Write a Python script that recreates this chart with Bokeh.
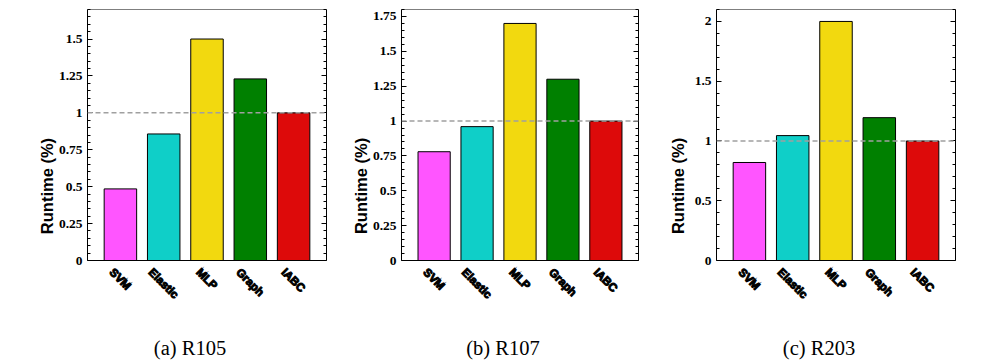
from bokeh.plotting import figure
from bokeh.layouts import row
from bokeh.models import (Span, LinearAxis, FixedTicker, Range1d, FactorRange,
                          LabelSet, ColumnDataSource)
from bokeh.core.properties import value
from bokeh.embed import file_html
from bokeh.resources import INLINE
import numpy as np

methods = ["SVM", "Elastic", "MLP", "Graph", "IABC"]
colors = ["#FF55FF", "#0FCFC8", "#F2D90F", "#008000", "#DD0A0A"]

r105 = [0.485, 0.857, 1.50, 1.23, 1.00]
r107 = [0.78, 0.96, 1.70, 1.30, 1.00]
r203 = [0.82, 1.045, 2.00, 1.195, 1.00]

ticks_a = [0, 0.25, 0.5, 0.75, 1, 1.25, 1.5]
labels_a = ["0", "0.25", "0.5", "0.75", "1", "1.25", "1.5"]
ticks_b = [0, 0.25, 0.5, 0.75, 1, 1.25, 1.5, 1.75]
labels_b = ["0", "0.25", "0.5", "0.75", "1", "1.25", "1.5", "1.75"]
ticks_c = [0, 0.5, 1, 1.5, 2]
labels_c = ["0", "0.5", "1", "1.5", "2"]

captions = ["(a) R105", "(b) R107", "(c) R203"]
baseline = 1.0

# layout (pixels)
TOP = 9          # canvas top -> plot box top
BOX_H = 251      # height of the plot box (0 .. ymax)
BELOW = 102      # space below plot box for category labels and caption
XFS = 11.5       # category label font size

# approximate bold sans advance widths (em) for placing rotated category labels
_W = {"S": .667, "V": .667, "M": .833, "E": .667, "l": .278, "a": .556, "s": .556,
      "t": .333, "i": .278, "c": .556, "L": .611, "P": .667, "G": .778, "r": .389,
      "p": .611, "h": .611, "I": .278, "A": .722, "B": .722, "C": .722}


def rotated_offsets(names, fs, gap):
    offs = []
    for n in names:
        L = sum(_W.get(ch, .6) for ch in n) * fs
        half = (L + 0.9 * fs) * 0.7071 / 2
        offs.append(-(gap + half))
    return offs


def panel(values, ymax, ticks, labels, minor_step, caption, left, width, label_standoff):
    ymin = -BELOW / BOX_H * ymax
    p = figure(x_range=FactorRange(*methods),
               y_range=Range1d(ymin, ymax),
               width=width, height=TOP + BOX_H + BELOW,
               min_border_left=left, min_border_right=12,
               min_border_top=TOP, min_border_bottom=0,
               toolbar_location=None, output_backend="svg", x_axis_location=None)
    p.x_range.range_padding = 0.26
    p.x_range.range_padding_units = "absolute"
    p.vbar(x=methods, top=values, width=0.75, fill_color=colors,
           line_color="black", line_width=1)
    p.add_layout(Span(location=baseline, dimension="width", line_color="#A0A0A0",
                      line_width=1.5, line_dash="5 3"))
    p.add_layout(Span(location=0, dimension="width", line_color="black", line_width=1))
    p.add_layout(Span(location=ymax, dimension="width", line_color="black", line_width=1))
    p.xgrid.visible = False
    p.ygrid.visible = False
    p.outline_line_color = None

    minors = list(np.round(np.arange(0, ymax + 1e-9, minor_step), 4))
    ya = p.yaxis[0]
    ya.bounds = (0, ymax)
    ya.ticker = FixedTicker(ticks=ticks, minor_ticks=minors)
    ya.major_label_overrides = {t: l for t, l in zip(ticks, labels)}
    ya.major_label_text_font = "Liberation Serif"
    ya.major_label_text_font_style = "bold"
    ya.major_label_text_font_size = "13.5px"
    ya.major_label_text_color = "black"
    ya.major_label_standoff = 5
    ya.major_tick_in = 5
    ya.major_tick_out = 0
    ya.minor_tick_in = 3
    ya.minor_tick_out = 0
    ya.axis_line_color = "black"
    ya.axis_label = "Runtime (%)"
    ya.axis_label_text_font = "Liberation Sans"
    ya.axis_label_text_font_style = "bold"
    ya.axis_label_text_font_size = "16.5px"
    ya.axis_label_text_color = "black"
    ya.axis_label_standoff = label_standoff

    ra = LinearAxis(ticker=FixedTicker(ticks=ticks, minor_ticks=minors), bounds=(0, ymax))
    ra.major_label_text_font_size = "1px"
    ra.major_label_text_color = None
    ra.major_label_standoff = 0
    ra.major_tick_in = 5
    ra.major_tick_out = 0
    ra.minor_tick_in = 3
    ra.minor_tick_out = 0
    ra.axis_line_color = "black"
    p.add_layout(ra, "right")

    src = ColumnDataSource(dict(x=methods, y=[0] * len(methods),
                                yoff=rotated_offsets(methods, XFS, 6)))
    p.add_layout(LabelSet(x="x", y="y", text="x", source=src, y_offset="yoff",
                          angle=-np.pi / 4, text_align="center", text_baseline="middle",
                          text_font=value("Liberation Sans"), text_font_style="bold",
                          text_font_size=f"{XFS}px", text_color="black",
                          text_outline_color="black"))

    csrc = ColumnDataSource(dict(x=["MLP"], y=[0], text=[caption]))
    p.add_layout(LabelSet(x="x", y="y", text="text", source=csrc, x_offset=-17,
                          y_offset=-87, text_align="center", text_baseline="middle",
                          text_font=value("Liberation Serif"), text_font_size="20.5px",
                          text_color="black"))
    return p


p1 = panel(r105, 1.7, ticks_a, labels_a, 0.05, captions[0], 87, 338, 0)
p2 = panel(r107, 1.8, ticks_b, labels_b, 0.05, captions[1], 63, 312, 0)
p3 = panel(r203, 2.1, ticks_c, labels_c, 0.1, captions[2], 66, 317, 5)

layout = row(p1, p2, p3)
open("out.html", "w").write(file_html(layout, INLINE))
